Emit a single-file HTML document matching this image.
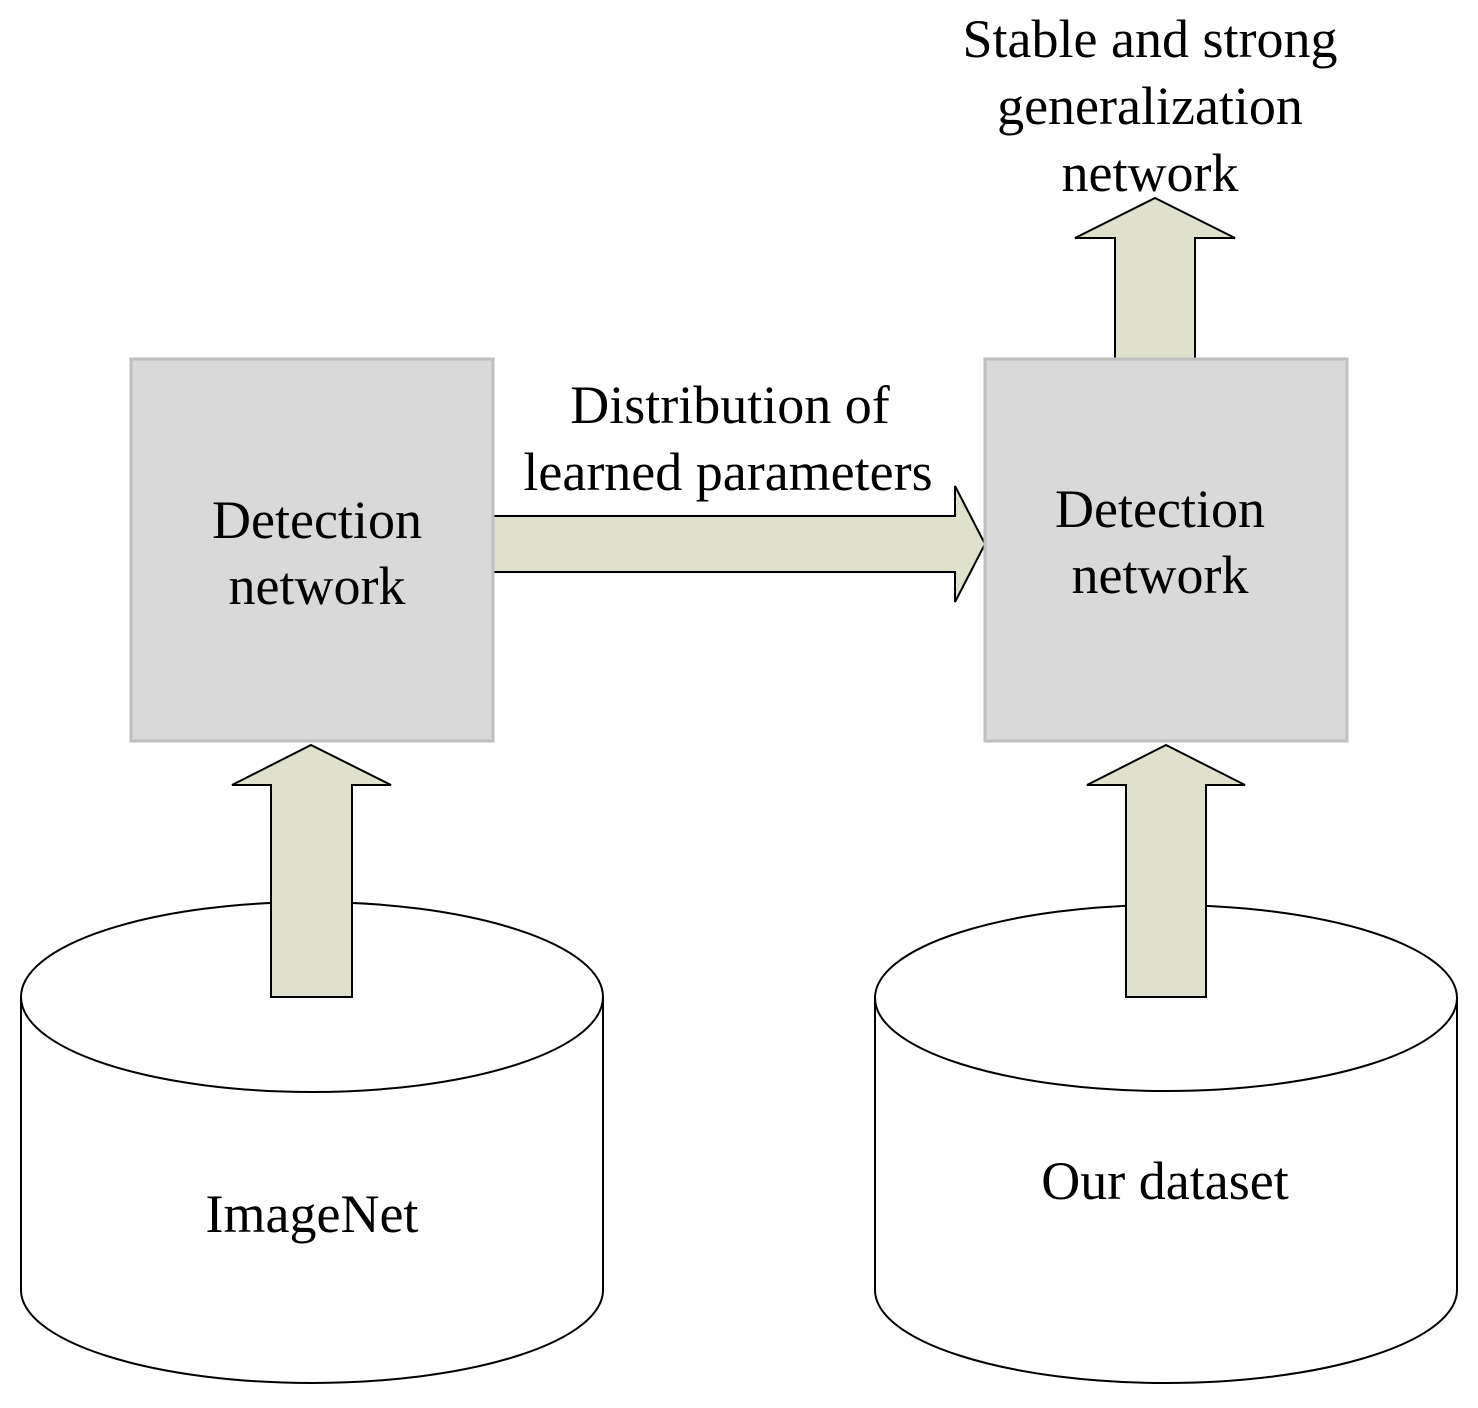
<!DOCTYPE html>
<html><head><meta charset="utf-8"><style>
html,body{margin:0;padding:0;background:#fff;}
svg{display:block;}
text{font-family:"Liberation Serif",serif;font-size:54px;fill:#000;text-anchor:middle;}
</style></head><body>
<svg width="1478" height="1408" viewBox="0 0 1478 1408" xmlns="http://www.w3.org/2000/svg">
<!-- cylinders -->
<g fill="#fff" stroke="#000" stroke-width="2">
<path d="M21,997 L21,1290 A291,93 0 0 0 603,1290 L603,997"/>
<ellipse cx="312" cy="997" rx="291" ry="95"/>
<path d="M875,997 L875,1290 A291,93 0 0 0 1457,1290 L1457,997"/>
<ellipse cx="1166" cy="998" rx="291" ry="93"/>
</g>
<!-- arrows -->
<g fill="#dfe1cd" stroke="#000" stroke-width="2" stroke-linejoin="miter">
<polygon points="271,997 271,785 232,785 311,745 391,785 352,785 352,997"/>
<polygon points="1126,997 1126,785 1087,785 1166,745 1245,785 1206,785 1206,997"/>
<polygon points="1115,360 1115,238 1075,238 1155,198 1235,238 1195,238 1195,360"/>
<polygon points="493,516 955,516 955,486 985,544 955,602 955,572 493,572"/>
</g>
<!-- boxes -->
<rect x="131" y="359" width="362" height="382" fill="#d9d9d9" stroke="#bfbfbf" stroke-width="3"/>
<rect x="985" y="359" width="362" height="382" fill="#d9d9d9" stroke="#bfbfbf" stroke-width="3"/>
<!-- text -->
<text x="317" y="538">Detection</text>
<text x="317" y="604">network</text>
<text x="1160" y="527">Detection</text>
<text x="1160" y="593">network</text>
<text x="730" y="423">Distribution of</text>
<text x="728" y="490">learned parameters</text>
<text x="1150" y="57">Stable and strong</text>
<text x="1150" y="124">generalization</text>
<text x="1150" y="191">network</text>
<text x="312" y="1232">ImageNet</text>
<text x="1165" y="1199">Our dataset</text>
</svg>
</body></html>
